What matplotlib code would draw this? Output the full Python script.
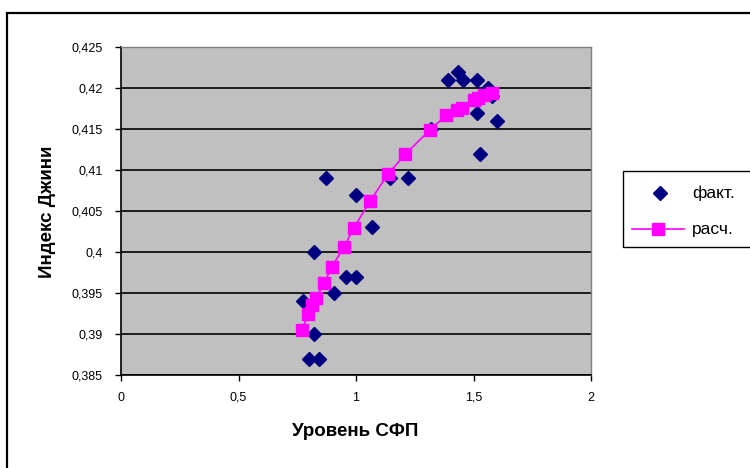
import matplotlib
matplotlib.use('Agg')
import matplotlib.pyplot as plt
from matplotlib.patches import Rectangle
from matplotlib.lines import Line2D

plt.rcParams['font.family'] = ['Liberation Sans', 'DejaVu Sans']

# Фактические значения
fakt_x = [0.776, 0.80, 0.82, 0.82, 0.843, 0.872, 0.907, 0.957, 1.0, 1.0, 1.07,
          1.145, 1.22, 1.32, 1.39, 1.434, 1.455, 1.515, 1.515, 1.528, 1.563,
          1.58, 1.60]
fakt_y = [0.394, 0.387, 0.400, 0.390, 0.387, 0.409, 0.395, 0.397, 0.397, 0.407,
          0.403, 0.409, 0.409, 0.415, 0.421, 0.422, 0.421, 0.421, 0.417, 0.412,
          0.420, 0.419, 0.416]

# Расчетные значения
rasch_x = [0.77, 0.797, 0.814, 0.83, 0.864, 0.897, 0.949, 0.99, 1.06, 1.136,
           1.209, 1.315, 1.385, 1.43, 1.45, 1.50, 1.52, 1.545, 1.58]
rasch_y = [0.3905, 0.3924, 0.3935, 0.3944, 0.3962, 0.3982, 0.4006, 0.4029,
           0.4062, 0.4095, 0.4119, 0.4149, 0.4167, 0.4173, 0.4176, 0.4185,
           0.4188, 0.4191, 0.4194]

xticks = [0, 0.5, 1, 1.5, 2]
xlabels = ['0', '0,5', '1', '1,5', '2']
yticks = [0.385, 0.39, 0.395, 0.40, 0.405, 0.41, 0.415, 0.42, 0.425]
ylabels = ['0,385', '0,39', '0,395', '0,4', '0,405', '0,41', '0,415', '0,42', '0,425']

W, H = 750, 468
fig = plt.figure(figsize=(7.5, 4.68), dpi=100)

# Рамка диаграммы
fig.patches.append(Rectangle((7 / W, -0.2), 1.5, 1 - 13 / H + 0.2,
                             transform=fig.transFigure, fill=False,
                             edgecolor='black', linewidth=1.6))

ax = fig.add_axes([121 / W, 1 - 375 / H, 470 / W, 328 / H])
ax.set_facecolor('#C0C0C0')

ax.plot(rasch_x, rasch_y, color='#FF00FF', linewidth=1.2, marker='s',
        markersize=8, markerfacecolor='#FF00FF', markeredgecolor='#FF00FF',
        zorder=3)
ax.plot(fakt_x, fakt_y, linestyle='none', marker='D', markersize=7,
        color='#000080', zorder=2)

ax.set_xlim(0, 2)
ax.set_ylim(0.385, 0.425)
ax.set_xticks(xticks)
ax.set_xticklabels(xlabels)
ax.set_yticks(yticks)
ax.set_yticklabels(ylabels)
ax.yaxis.grid(True, color='black', linewidth=1.2)
ax.set_axisbelow(True)
ax.tick_params(axis='both', direction='out', length=4, width=1, labelsize=9,
               color='black')
ax.tick_params(axis='x', pad=8)
ax.tick_params(axis='y', pad=9)

for s in ['left', 'bottom']:
    ax.spines[s].set_color('black')
    ax.spines[s].set_linewidth(1.2)
for s in ['top', 'right']:
    ax.spines[s].set_color('#808080')
    ax.spines[s].set_linewidth(1)

fig.text(355 / W, 1 - 432 / H, 'Уровень СФП', ha='center', va='center',
         fontsize=13.5, fontweight='bold')
fig.text(47 / W, 1 - 212 / H, 'Индекс Джини', ha='center', va='center',
         rotation=90, fontsize=13.5, fontweight='bold')

# Легенда (выходит за правый край, как в исходнике)
fig.patches.append(Rectangle((623 / W, 1 - 247 / H), 200 / W, 76 / H,
                             transform=fig.transFigure, fill=False,
                             edgecolor='black', linewidth=1))
fig.lines.append(Line2D([660 / W], [1 - 193 / H], transform=fig.transFigure,
                        linestyle='none', marker='D', markersize=7,
                        color='#000080'))
fig.lines.append(Line2D([632 / W, 684 / W], [1 - 229 / H, 1 - 229 / H],
                        transform=fig.transFigure, color='#FF00FF',
                        linewidth=1.2, marker='s', markersize=8,
                        markevery=[]))
fig.lines.append(Line2D([658 / W], [1 - 229 / H], transform=fig.transFigure,
                        linestyle='none', marker='s', markersize=8,
                        color='#FF00FF'))
fig.text(692 / W, 1 - 193 / H, 'факт.', ha='left', va='center', fontsize=12.5)
fig.text(692 / W, 1 - 229 / H, 'расч.', ha='left', va='center', fontsize=12.5)

fig.savefig('out.png', dpi=100)
